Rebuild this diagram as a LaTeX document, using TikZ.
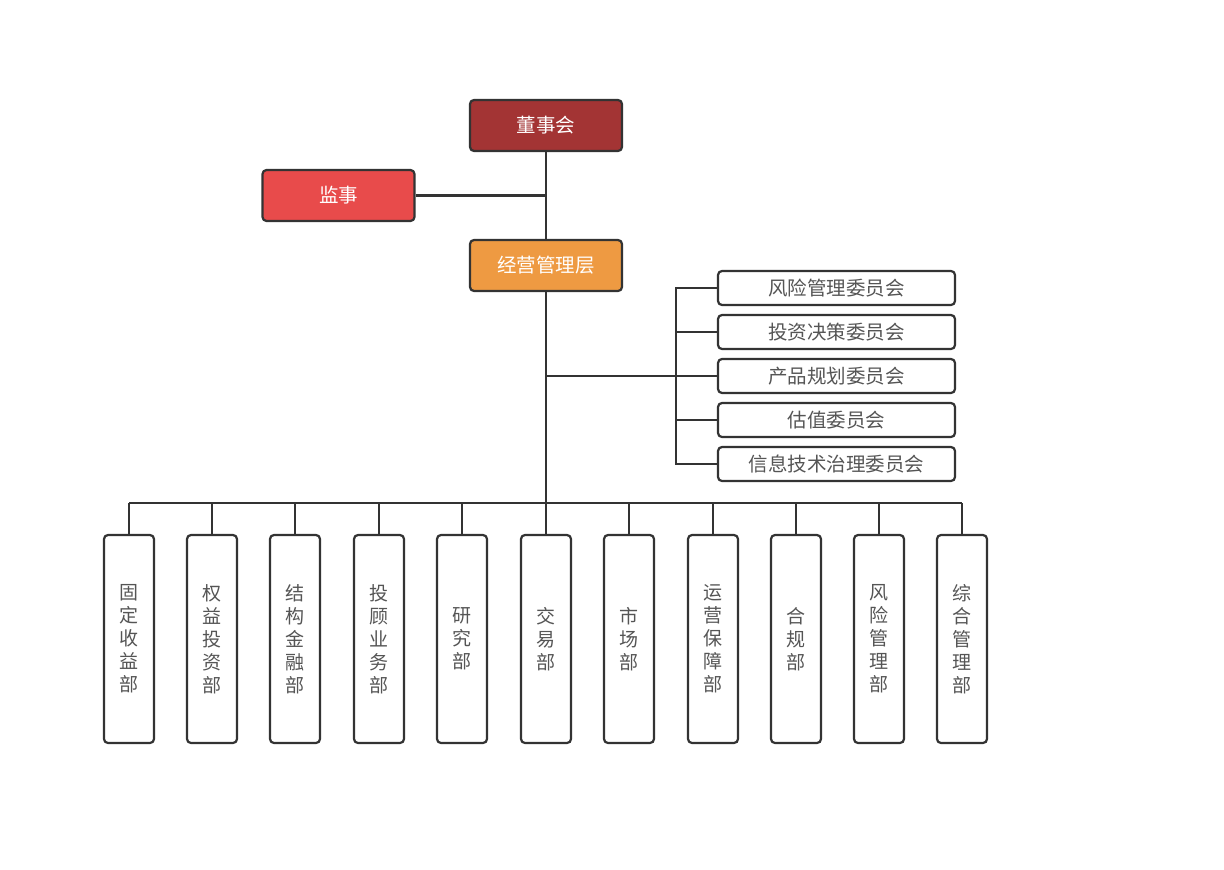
\documentclass[tikz,border=0pt]{standalone}
\usepackage{fontspec}
\setmainfont{Noto Sans CJK SC}
\usetikzlibrary{positioning}
\definecolor{boardc}{HTML}{A33434}
\definecolor{supc}{HTML}{E84B4B}
\definecolor{mgmtc}{HTML}{EE9A42}
\definecolor{linec}{HTML}{333333}
\definecolor{txtc}{HTML}{555555}
\tikzset{
  box/.style={draw=linec, line width=2.2pt, rounded corners=4pt, inner sep=0pt},
  topbox/.style={box, minimum width=152pt, minimum height=51pt, text=white, font=\fontsize{19.5pt}{22pt}\selectfont},
  combox/.style={box, fill=white, minimum width=237pt, minimum height=34pt, text=txtc, font=\fontsize{19.5pt}{22pt}\selectfont},
  deptbox/.style={box, fill=white, minimum width=50pt, minimum height=208pt, text=txtc, align=center, font=\fontsize{19pt}{23pt}\selectfont},
  conn/.style={draw=linec, line width=2.2pt}
}
\begin{document}
\begin{tikzpicture}[x=1pt,y=-1pt]
\useasboundingbox[fill=white] (0,0) rectangle (1224,870);
\node[topbox, fill=boardc] (board) at (546,125.5) {董事会};
\node[topbox, fill=supc] (sup) at (338.5,195.5) {监事};
\node[topbox, fill=mgmtc] (mgmt) at (546,265.5) {经营管理层};
\coordinate (j1) at (546,195.5);
\draw[conn] (board.south) -- (mgmt.north);
\draw[conn] (sup.east) -- (j1);
% committees
\node[combox] (c1) at (836.5,288) {风险管理委员会};
\node[combox] (c2) at (836.5,332) {投资决策委员会};
\node[combox] (c3) at (836.5,376) {产品规划委员会};
\node[combox] (c4) at (836.5,420) {估值委员会};
\node[combox] (c5) at (836.5,464) {信息技术治理委员会};
\coordinate (cb1) at (676,288);
\coordinate (cb2) at (676,332);
\coordinate (cb4) at (676,420);
\coordinate (cb5) at (676,464);
\coordinate (m3) at (546,376);
\draw[conn] (c1.west) -- (cb1) -- (cb5) -- (c5.west);
\draw[conn] (cb2) -- (c2.west);
\draw[conn] (cb4) -- (c4.west);
\draw[conn] (m3) -- (c3.west);
% departments
\coordinate (bus) at (546,503);
\draw[conn] (mgmt.south) -- (bus);
\foreach \i/\x/\t in {1/129/固\\定\\收\\益\\部, 2/212/权\\益\\投\\资\\部, 3/295/结\\构\\金\\融\\部, 4/379/投\\顾\\业\\务\\部, 5/462/研\\究\\部, 6/546/交\\易\\部, 7/629/市\\场\\部, 8/713/运\\营\\保\\障\\部, 9/796/合\\规\\部, 10/879/风\\险\\管\\理\\部, 11/962/综\\合\\管\\理\\部} {
  \node[deptbox] (d\i) at (\x,639) {\t};
  \coordinate (t\i) at (\x,503);
  \draw[conn] (t\i) -- (d\i.north);
}
\draw[conn] (t1) -- (t11);
\end{tikzpicture}
\end{document}
